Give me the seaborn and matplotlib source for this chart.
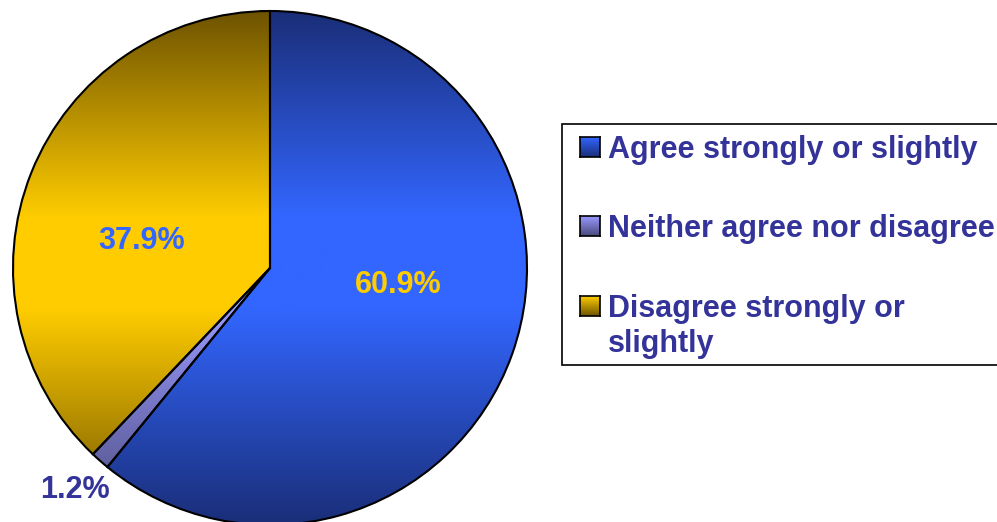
import numpy as np
import seaborn as sns
import matplotlib.pyplot as plt
from matplotlib.colors import LinearSegmentedColormap
from matplotlib.patches import Rectangle

# data
labels = ['Agree strongly or slightly', 'Neither agree nor disagree', 'Disagree strongly or\nslightly']
values = [60.9, 1.2, 37.9]
pct_text = ['60.9%', '1.2%', '37.9%']

# colours: (edge of gradient, middle of gradient)
dark = ['#1a2e78', '#4a4a7c', '#6e5300']
bright = ['#3366ff', '#9999ff', '#ffcc00']
pct_colors = ['#ffcc00', '#333399', '#3366ff']
text_color = '#333399'

sns.set_style('white')
plt.rcParams['font.family'] = ['Liberation Sans', 'DejaVu Sans']
plt.rcParams['font.weight'] = 'bold'

W, H = 997, 522
fig = plt.figure(figsize=(W / 100, H / 100), dpi=100)

# pie axes: centre (270, 268) px, radius 257 px
cx, cy, r = 270, 268, 257
ax = fig.add_axes([(cx - r) / W, (H - cy - r) / H, 2 * r / W, 2 * r / H])
ax.set_axis_off()

wedges, _ = ax.pie(values, startangle=90, counterclock=False, radius=1,
                   wedgeprops=dict(edgecolor='black', linewidth=1.5))

grad = np.linspace(0, 1, 256).reshape(-1, 1)
for w, d, b in zip(wedges, dark, bright):
    cmap = LinearSegmentedColormap.from_list('g', [(0, d), (0.42, b), (0.6, b), (1, d)])
    w.set_facecolor('none')
    w.set_zorder(3)
    im = ax.imshow(grad, cmap=cmap, extent=[-1, 1, -1, 1], origin='lower',
                   aspect='auto', zorder=2, interpolation='bilinear')
    im.set_clip_path(w)
ax.set_xlim(-1, 1)
ax.set_ylim(-1, 1)

# percentage labels (pixel positions of the reference)
pct_pos = [(398, 285), (75, 490), (142, 241)]
for t, c, (px, py) in zip(pct_text, pct_colors, pct_pos):
    fig.text(px / W, 1 - py / H, t, color=c, fontsize=22, fontweight='bold',
             ha='center', va='center')

# legend box
fig.patches.append(Rectangle((562 / W, 1 - 365 / H), (W + 5 - 562) / W, (365 - 124) / H,
                             transform=fig.transFigure, facecolor='white',
                             edgecolor='black', linewidth=1.2, zorder=1))
rows = [147, 226, 306]
for lab, d, b, ry in zip(labels, dark, bright, rows):
    mk = fig.add_axes([580 / W, 1 - (ry + 10) / H, 20 / W, 20 / H], zorder=5)
    mcmap = LinearSegmentedColormap.from_list('m', [(0, d), (1, b)])
    mk.imshow(grad, cmap=mcmap, origin='lower', aspect='auto', extent=[0, 1, 0, 1])
    mk.set_xticks([])
    mk.set_yticks([])
    for s in mk.spines.values():
        s.set_visible(True)
        s.set_color('black')
        s.set_linewidth(1.2)
    fig.text(608 / W, 1 - (ry - 12) / H, lab, color=text_color, fontsize=22,
             fontweight='bold', ha='left', va='top', linespacing=1.22, zorder=6)

fig.savefig('out.png', dpi=100)
